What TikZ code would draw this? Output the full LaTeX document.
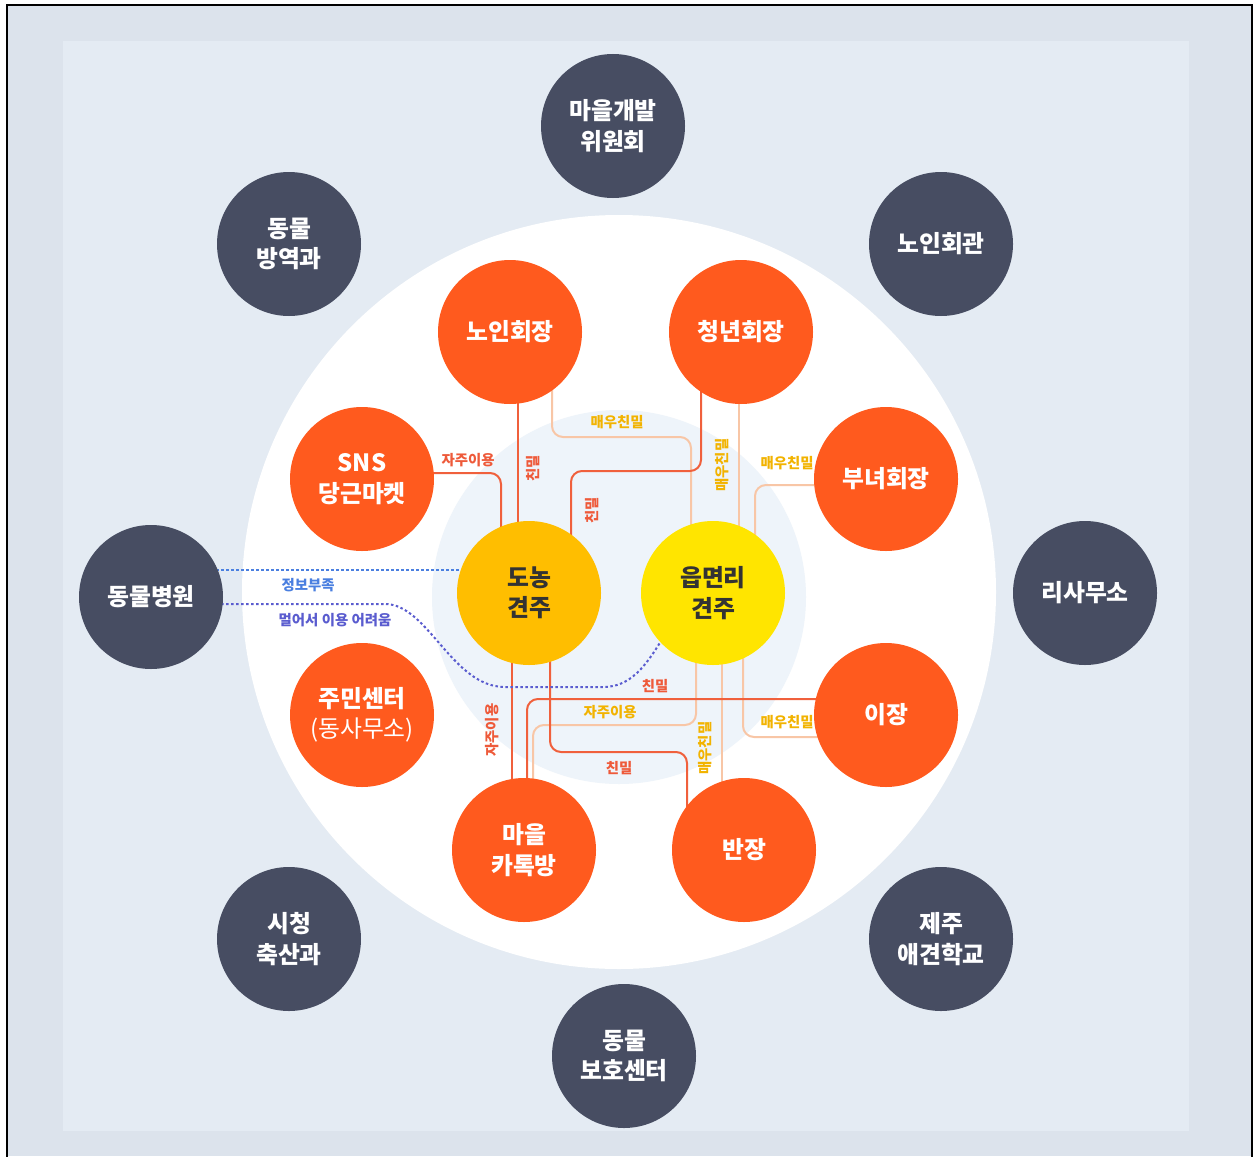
\documentclass[tikz,border=0pt]{standalone}
\usepackage{fontspec}
\setmainfont{Noto Sans CJK KR}
\IfFontExistsTF{Noto Sans CJK KR Black}
  {\newfontfamily\heavyfont{Noto Sans CJK KR Black}}
  {\newfontfamily\heavyfont{Noto Sans CJK KR}[UprightFont=*/B]}
\usetikzlibrary{calc}
\definecolor{bgout}{HTML}{DCE3EC}
\definecolor{bgin}{HTML}{E4EBF3}
\definecolor{innerc}{HTML}{EEF4FA}
\definecolor{darkc}{HTML}{474D62}
\definecolor{orc}{HTML}{FF5A1E}
\definecolor{amberc}{HTML}{FFBE00}
\definecolor{yelc}{HTML}{FFE500}
\definecolor{dlinec}{HTML}{F0603C}
\definecolor{llinec}{HTML}{F8C6A6}
\definecolor{dlabc}{HTML}{EE5A3A}
\definecolor{ylabc}{HTML}{F2B300}
\definecolor{bluec}{HTML}{4A7FE0}
\definecolor{purpc}{HTML}{5A5CCF}
\definecolor{txtc}{HTML}{333333}
\newcommand\kcirc{\fontsize{23.8}{30.5}\selectfont\heavyfont}
\newcommand\klab{\fontsize{14.4}{16}\selectfont\bfseries}
\pgfdeclarelayer{bg}
\pgfsetlayers{bg,main}
\begin{document}
\begin{tikzpicture}[x=1pt,y=-1pt,
  basecirc/.style={circle,minimum size=144pt,inner sep=0pt,align=center,font=\kcirc},
  darkcirc/.style={basecirc,fill=darkc,text=white},
  orcirc/.style={basecirc,fill=orc,text=white},
  ambcirc/.style={basecirc,fill=amberc,text=txtc},
  yelcirc/.style={basecirc,fill=yelc,text=txtc},
  dline/.style={draw=dlinec,line width=2pt,rounded corners=11pt},
  lline/.style={draw=llinec,line width=2pt,rounded corners=11pt},
  dlab/.style={font=\klab,text=dlabc,inner sep=0pt},
  ylab/.style={font=\klab,text=ylabc,inner sep=0pt},
  blab/.style={font=\klab,text=bluec,inner sep=0pt},
  plab/.style={font=\klab,text=purpc,inner sep=0pt},
  dotb/.style={draw=bluec,line width=2pt,dash pattern=on 2.5pt off 2.5pt},
  dotp/.style={draw=purpc,line width=2pt,dash pattern=on 2.5pt off 2.5pt},
]
\useasboundingbox (0,0) rectangle (1255,1156);
\begin{pgfonlayer}{bg}
\fill[white] (0,0) rectangle (1255,1156);
\fill[bgout] (7,5) rectangle (1252,1156);
\draw[line width=2pt] (7,1158) -- (7,5) -- (1252,5) -- (1252,1158);
\fill[bgin] (63,41) rectangle (1189,1131);
\fill[white] (619,592) circle (377);
\fill[innerc] (619,597) circle (187);
\end{pgfonlayer}

% outer dark circles
\node[darkcirc] (dev) at (613,126) {마을개발\\위원회};
\node[darkcirc] (quar) at (289,244) {동물\\방역과};
\node[darkcirc] (hall) at (941,244) {노인회관};
\node[darkcirc] (vet) at (151,597) {동물병원};
\node[darkcirc] (office) at (1085,593) {리사무소};
\node[darkcirc] (city) at (289,939) {시청\\축산과};
\node[darkcirc] (school) at (941,939) {제주\\애견학교};
\node[darkcirc] (shelter) at (624,1056) {동물\\보호센터};

% orange circles
\node[orcirc] (elder) at (510,332) {노인회장};
\node[orcirc] (youth) at (741,332) {청년회장};
\node[orcirc] (sns) at (362,479) {SNS\\당근마켓};
\node[orcirc] (women) at (886,479) {부녀회장};
\node[orcirc] (center) at (362,715) {주민센터\\{\normalfont(동사무소)}};
\node[orcirc] (chief) at (886,715) {이장};
\node[orcirc] (kakao) at (524,850) {마을\\카톡방};
\node[orcirc] (leader) at (744,850) {반장};

% center circles
\node[ambcirc] (donong) at (529,593) {도농\\견주};
\node[yelcirc] (eup) at (713,593) {읍면리\\견주};

% connectors
\begin{pgfonlayer}{bg}
% light lines
\draw[lline] ($(elder.center)+(42,0)$) -- ++(0,105) -| ($(eup.center)+(-22,0)$);
\draw[lline] ($(youth.center)+(-2,0)$) -- ($(eup.center)+(26,0)$);
\draw[lline] ($(women.center)+(0,6)$) -| ($(eup.center)+(42,0)$);
\draw[lline] ($(eup.center)+(-17,0)$) -- ++(0,132) -| ($(kakao.center)+(9,0)$);
\draw[lline] ($(eup.center)+(9,0)$) -- ($(leader.center)+(-22,0)$);
\draw[lline] ($(eup.center)+(30,0)$) |- ($(chief.center)+(0,22)$);
% dark lines
\draw[dline] ($(sns.center)+(0,-6)$) -| ($(donong.center)+(-28,0)$);
\draw[dline] ($(elder.center)+(8,0)$) -- ($(donong.center)+(-11,0)$);
\draw[dline] ($(youth.center)+(-40,0)$) -- ++(0,139) -| ($(donong.center)+(42,0)$);
\draw[dline] ($(donong.center)+(-17,0)$) -- ($(kakao.center)+(-12,0)$);
\draw[dline] ($(donong.center)+(21,0)$) -- ++(0,159) -| ($(leader.center)+(-57,0)$);
\draw[dline] ($(chief.center)+(0,-16)$) -| ($(kakao.center)+(3,0)$);
% dotted
\draw[dotb] ($(vet.center)+(0,-27)$) -- ($(donong.center)+(0,-23)$);
\draw[dotp] ($(vet.center)+(0,7)$) -- (385,604) .. controls (428,604) and (452,687) .. (505,687)
  -- (603,687) .. controls (630,687) and (645,667) .. ($(eup.center)+(-52,48)$);
\end{pgfonlayer}

% labels
\node[dlab] (l1) at (468,460) {자주이용};
\node[dlab,rotate=90] (l2) at (533,468) {친밀};
\node[ylab] (l3) at (617,422) {매우친밀};
\node[dlab,rotate=90] (l4) at (592,510) {친밀};
\node[ylab,rotate=90] (l5) at (722,465) {매우친밀};
\node[ylab] (l6) at (787,463) {매우친밀};
\node[dlab,rotate=90] (l7) at (492,730) {자주이용};
\node[dlab] (l8) at (619,768) {친밀};
\node[dlab] (l9) at (655,686) {친밀};
\node[ylab] (l10) at (610,712) {자주이용};
\node[ylab,rotate=90] (l11) at (705,748) {매우친밀};
\node[ylab] (l12) at (787,722) {매우친밀};
\node[blab] (l13) at (308,585) {정보부족};
\node[plab] (l14) at (335,620) {멀어서 이용 어려움};
\end{tikzpicture}
\end{document}
